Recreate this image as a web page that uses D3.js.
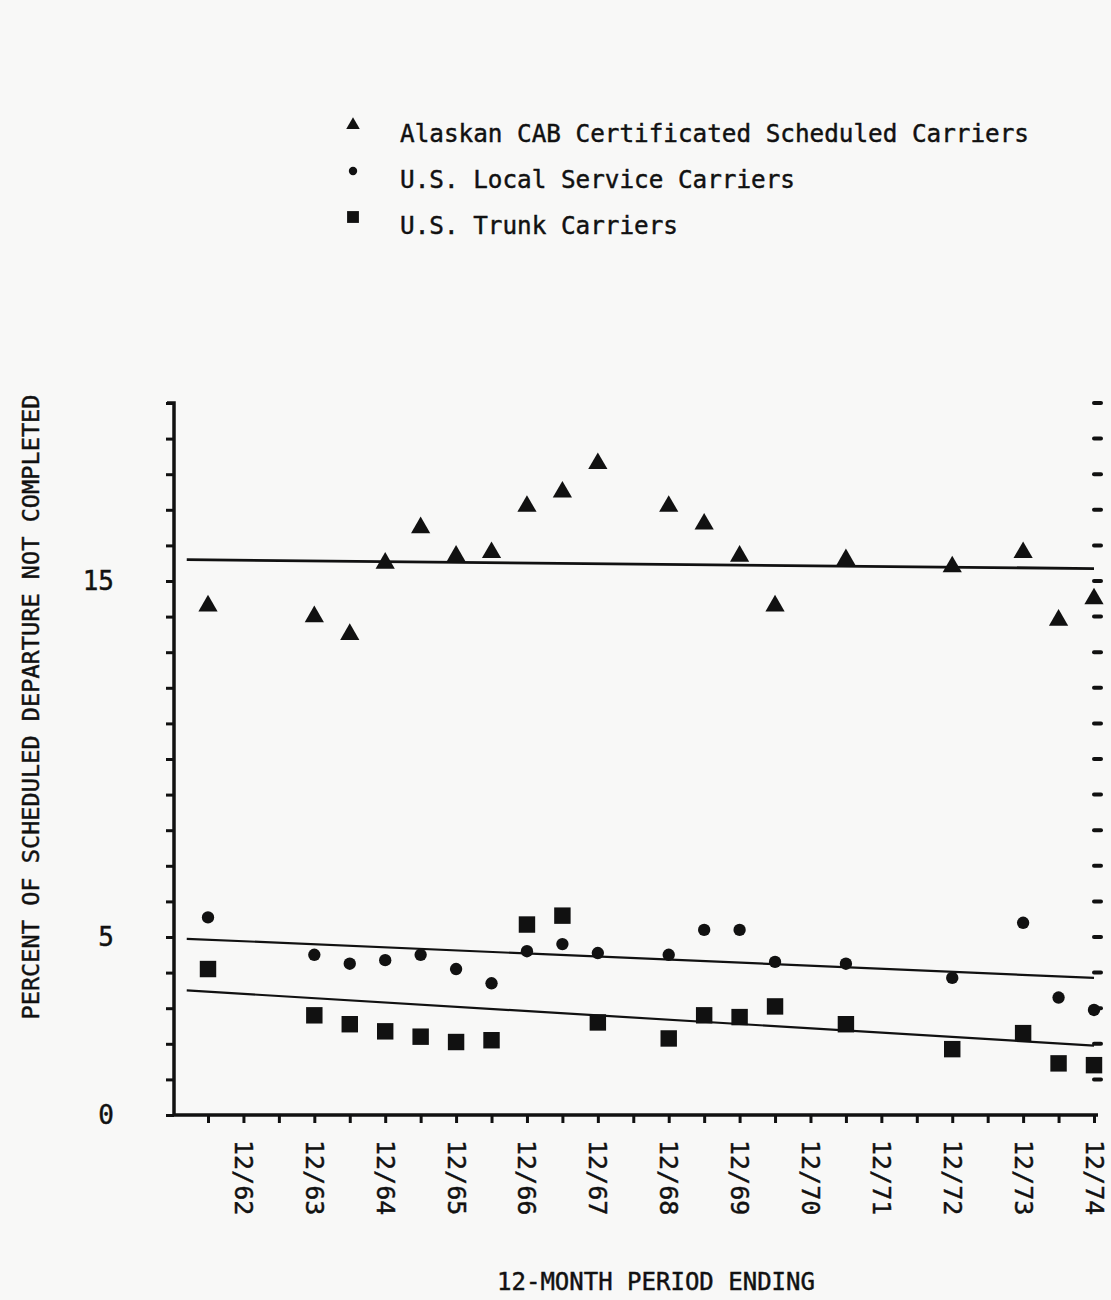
<!DOCTYPE html>
<html>
<head>
<meta charset="utf-8">
<script src="https://cdn.jsdelivr.net/npm/d3@7"></script>
<style>
  body { margin: 0; background: #f8f8f7; }
  text { font-family: 'DejaVu Sans Mono', monospace; fill: #111; stroke: #111; stroke-width: 0.45px; }
</style>
</head>
<body>
<div id="chart"></div>
<script>
// 12-month periods ending (month/year); x positions come from these
const periods = ['6/62', '12/62', '6/63', '12/63', '6/64', '12/64', '6/65', '12/65',
  '6/66', '12/66', '6/67', '12/67', '6/68', '12/68', '6/69', '12/69', '6/70', '12/70',
  '6/71', '12/71', '6/72', '12/72', '6/73', '12/73', '6/74', '12/74'];

// Alaskan CAB certificated scheduled carriers
const alaskanPeriods = ['6/62', '12/63', '6/64', '12/64', '6/65', '12/65', '6/66', '12/66',
  '6/67', '12/67', '12/68', '6/69', '12/69', '6/70', '6/71', '12/72', '12/73', '6/74', '12/74'];
const alaskanValues = [14.3, 14.0, 13.5, 15.5, 16.5, 15.7, 15.8, 17.1,
  17.5, 18.3, 17.1, 16.6, 15.7, 14.3, 15.6, 15.4, 15.8, 13.9, 14.5];

// U.S. local service carriers
const localPeriods = ['6/62', '12/63', '6/64', '12/64', '6/65', '12/65', '6/66', '12/66',
  '6/67', '12/67', '12/68', '6/69', '12/69', '6/70', '6/71', '12/72', '12/73', '6/74', '12/74'];
const localValues = [5.55, 4.5, 4.25, 4.35, 4.5, 4.1, 3.7, 4.6,
  4.8, 4.55, 4.5, 5.2, 5.2, 4.3, 4.25, 3.85, 5.4, 3.3, 2.95];

// U.S. trunk carriers
const trunkPeriods = ['6/62', '12/63', '6/64', '12/64', '6/65', '12/65', '6/66', '12/66',
  '6/67', '12/67', '12/68', '6/69', '12/69', '6/70', '6/71', '12/72', '12/73', '6/74', '12/74'];
const trunkValues = [4.1, 2.8, 2.55, 2.35, 2.2, 2.05, 2.1, 5.35,
  5.6, 2.6, 2.15, 2.8, 2.75, 3.05, 2.55, 1.85, 2.3, 1.45, 1.4];

// fitted trend lines: [start, end] in decimal years and percent
const trendYears = [1962.2, 1975.0];
const alaskanTrend = [15.6, 15.35];
const localTrend = [4.95, 3.85];
const trunkTrend = [3.5, 1.95];

const yTickValues = d3.range(0, 21);
const yLabelled = [0, 5, 15];

const legendLabels = ['Alaskan CAB Certificated Scheduled Carriers',
  'U.S. Local Service Carriers', 'U.S. Trunk Carriers'];

function toYear(p) {
  let parts = p.split('/');
  return 1900 + +parts[1] + +parts[0] / 12;
}

let width = 1111, height = 1300;

let svg = d3.select('#chart')
            .append('svg')
            .attr('width', width)
            .attr('height', height);

let x = d3.scaleLinear()
          .domain([toYear('6/62'), toYear('12/74')])
          .range([208, 1094]);

let y = d3.scaleLinear()
          .domain([0, 20])
          .range([1115, 403]);

let axisX0 = 174;

// Y axis ticks and labels
let yAxis = svg.append('g')
   .attr('transform', `translate(${axisX0}, 0)`)
   .call(d3.axisLeft(y)
           .tickValues(yTickValues)
           .tickSize(8)
           .tickPadding(52)
           .tickFormat(d => yLabelled.includes(d) ? d : ''));

yAxis.select('.domain').remove();
yAxis.selectAll('line').attr('stroke', '#111').attr('stroke-width', 3);
yAxis.selectAll('text')
     .style('font-family', "'DejaVu Sans Mono', monospace")
     .style('font-size', '26px')
     .attr('fill', '#111');

// X axis ticks and labels
let xAxis = svg.append('g')
   .attr('transform', `translate(0, ${y(0)})`)
   .call(d3.axisBottom(x)
           .tickValues(periods.map(toYear))
           .tickSize(8)
           .tickFormat((d, i) => periods[i].startsWith('12/') ? periods[i] : ''));

xAxis.select('.domain').remove();
xAxis.selectAll('line').attr('stroke', '#111').attr('stroke-width', 3);
xAxis.selectAll('text')
     .style('font-family', "'DejaVu Sans Mono', monospace")
     .style('font-size', '25px')
     .attr('fill', '#111')
     .attr('text-anchor', 'start')
     .attr('transform', 'rotate(90)')
     .attr('x', 25)
     .attr('y', 0)
     .attr('dy', '0.36em');

// axis lines
svg.append('path')
   .attr('d', `M${axisX0 - 7},${y(20)} L${axisX0},${y(20)} L${axisX0},${y(0)} L${x.range()[1] + 4},${y(0)}`)
   .attr('fill', 'none')
   .attr('stroke', '#111')
   .attr('stroke-width', 3.5);

// dashed right-hand scale
svg.append('g')
   .selectAll('line')
   .data(yTickValues.filter(d => d > 0))
   .enter()
   .append('line')
   .attr('x1', x.range()[1])
   .attr('x2', x.range()[1] + 7)
   .attr('y1', d => y(d))
   .attr('y2', d => y(d))
   .attr('stroke', '#111')
   .attr('stroke-width', 4)
   .attr('stroke-linecap', 'round');

// trend lines
let trends = [
  { values: alaskanTrend, w: 2.8 },
  { values: localTrend, w: 2.2 },
  { values: trunkTrend, w: 2.2 }
];

svg.append('g')
   .selectAll('line')
   .data(trends)
   .enter()
   .append('line')
   .attr('x1', x(trendYears[0]))
   .attr('x2', x(trendYears[1]))
   .attr('y1', d => y(d.values[0]))
   .attr('y2', d => y(d.values[1]))
   .attr('stroke', '#111')
   .attr('stroke-width', d => d.w);

// markers
let series = [
  { periods: alaskanPeriods, values: alaskanValues, symbol: d3.symbolTriangle, size: 160 },
  { periods: localPeriods, values: localValues, symbol: d3.symbolCircle, size: 120 },
  { periods: trunkPeriods, values: trunkValues, symbol: d3.symbolSquare, size: 270 }
];

series.forEach((s) => {
  svg.append('g')
     .selectAll('path')
     .data(s.values)
     .enter()
     .append('path')
     .attr('d', d3.symbol().type(s.symbol).size(s.size))
     .attr('transform', (d, i) => `translate(${x(toYear(s.periods[i]))}, ${y(d)})`)
     .attr('fill', '#111');
});

// legend
let legendSymbols = [
  { symbol: d3.symbolTriangle, size: 80 },
  { symbol: d3.symbolCircle, size: 55 },
  { symbol: d3.symbolSquare, size: 140 }
];

let legend = svg.append('g')
                .selectAll('g')
                .data(legendLabels)
                .enter()
                .append('g')
                .attr('transform', (d, i) => `translate(353, ${125 + i * 46})`);

legend.append('path')
      .attr('d', (d, i) => d3.symbol().type(legendSymbols[i].symbol).size(legendSymbols[i].size)())
      .attr('fill', '#111');

legend.append('text')
      .attr('x', 47)
      .attr('y', 17)
      .attr('font-size', 24.3)
      .text(d => d);

// axis titles
svg.append('text')
   .attr('text-anchor', 'middle')
   .attr('transform', 'translate(39, 707) rotate(-90)')
   .attr('font-size', 23.6)
   .text('PERCENT OF SCHEDULED DEPARTURE NOT COMPLETED');

svg.append('text')
   .attr('text-anchor', 'middle')
   .attr('x', 656)
   .attr('y', 1290)
   .attr('font-size', 24)
   .text('12-MONTH PERIOD ENDING');
</script>
</body>
</html>
